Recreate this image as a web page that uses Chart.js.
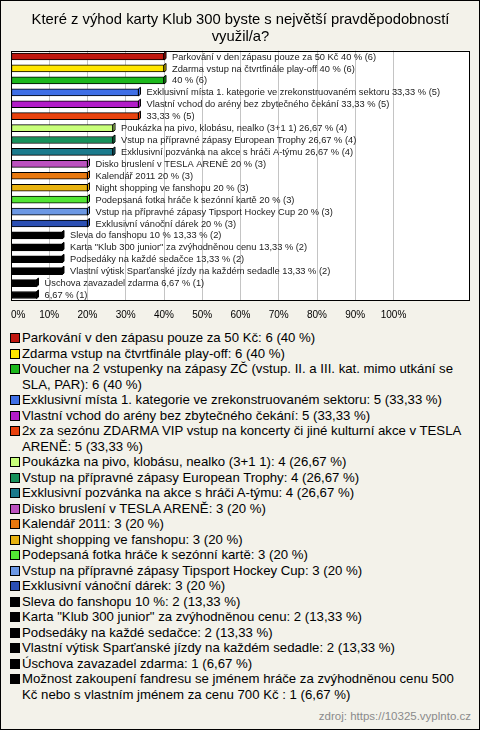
<!DOCTYPE html>
<html>
<head>
<meta charset="utf-8">
<script src="https://cdn.jsdelivr.net/npm/chart.js@4/dist/chart.umd.min.js"></script>
<style>
  html, body { margin: 0; padding: 0; background: #fff; }
  #box {
    position: relative; width: 480px; height: 730px; box-sizing: border-box;
    border: 1px solid #000; background: #f3f2ea; overflow: hidden;
    font-family: "Liberation Sans", Arial, sans-serif;
  }
  #chartWrap { position: absolute; left: 0; top: 0; width: 478px; height: 328px; }
  #legend { position: absolute; left: 9px; top: 329px; width: 462px; font-size: 13.2px; line-height: 15.5px; color: #000; }
  .item { display: flex; align-items: flex-start; }
  .sq { flex: none; width: 8px; height: 8px; border: 1px solid #000; margin: 3px 2px 0 0; }
  #src { position: absolute; right: 8px; top: 709px; font-size: 11.5px; color: #8a8a8a; }
</style>
</head>
<body>
<div id="box">
  <div id="chartWrap"><canvas id="chart"></canvas></div>
  <div id="legend"></div>
  <div id="src">zdroj: https://10325.vyplnto.cz</div>
</div>
<script>
/* ============== DATA ============== */
const titleLines = [
  "Které z výhod karty Klub 300 byste s největší pravděpodobností",
  "využil/a?",
];
const categories = [
  "Parkování v den zápasu pouze za 50 Kč",
  "Zdarma vstup na čtvrtfinále play-off",
  "Voucher na 2 vstupenky na zápasy ZČ (vstup. II. a III. kat. mimo utkání se SLA, PAR)",
  "Exklusivní místa 1. kategorie ve zrekonstruovaném sektoru",
  "Vlastní vchod do arény bez zbytečného čekání",
  "2x za sezónu ZDARMA VIP vstup na koncerty či jiné kulturní akce v TESLA ARENĚ",
  "Poukázka na pivo, klobásu, nealko (3+1 1)",
  "Vstup na přípravné zápasy European Trophy",
  "Exklusivní pozvánka na akce s hráči A-týmu",
  "Disko bruslení v TESLA ARENĚ",
  "Kalendář 2011",
  "Night shopping ve fanshopu",
  "Podepsaná fotka hráče k sezónní kartě",
  "Vstup na přípravné zápasy Tipsport Hockey Cup",
  "Exklusivní vánoční dárek",
  "Sleva do fanshopu 10 %",
  "Karta \"Klub 300 junior\" za zvýhodněnou cenu",
  "Podsedáky na každé sedačce",
  "Vlastní výtisk Sparťanské jízdy na každém sedadle",
  "Úschova zavazadel zdarma",
  "Možnost zakoupení fandresu se jménem hráče za zvýhodněnou cenu 500 Kč nebo s vlastním jménem za cenu 700 Kč ",
];
const counts = [6, 6, 6, 5, 5, 5, 4, 4, 4, 3, 3, 3, 3, 3, 3, 2, 2, 2, 2, 1, 1];
const percents = [40, 40, 40, 33.33, 33.33, 33.33, 26.67, 26.67, 26.67, 20, 20, 20, 20, 20, 20, 13.33, 13.33, 13.33, 13.33, 6.67, 6.67];
const colors = [
  "#c0170f", "#ffe600", "#1cb81c", "#3f6fe6", "#b21cc8", "#e8420e",
  "#c8ff7a", "#16915a", "#1b7a8c", "#bc52bf", "#e8780f", "#e8b20f",
  "#52e634", "#6c98e4", "#2b4fb4", "#000000", "#000000", "#000000",
  "#000000", "#000000", "#000000",
];
const tickValues = [0, 10, 20, 30, 40, 50, 60, 70, 80, 90, 100];

/* ============== HELPERS ============== */
const fmtPct = (v) => String(v).replace(".", ",");

// white plot area + black frame
const frame = {
  id: "frame",
  beforeDraw(chart) {
    const { ctx, chartArea: a } = chart;
    ctx.save();
    ctx.fillStyle = "#fff";
    ctx.fillRect(a.left, a.top, a.right - a.left, a.bottom - a.top);
    ctx.restore();
  },
  afterDraw(chart) {
    const { ctx, chartArea: a } = chart;
    ctx.save();
    ctx.strokeStyle = "#000";
    ctx.lineWidth = 1;
    ctx.strokeRect(Math.round(a.left) + 0.5, Math.round(a.top) + 0.5,
      Math.round(a.right - a.left) - 1, Math.round(a.bottom - a.top) - 1);
    ctx.restore();
  },
};

// little 3d side + text after every bar
const barText = {
  id: "barText",
  afterDatasetsDraw(chart) {
    const { ctx } = chart;
    const meta = chart.getDatasetMeta(0);
    ctx.save();
    meta.data.forEach((bar, i) => {
      const top = bar.y - bar.height / 2;
      const bot = bar.y + bar.height / 2;
      // right face
      ctx.beginPath();
      ctx.moveTo(bar.x, top);
      ctx.lineTo(bar.x + 2, top - 1.5);
      ctx.lineTo(bar.x + 2, bot - 1.5);
      ctx.lineTo(bar.x, bot);
      ctx.closePath();
      ctx.fillStyle = colors[i];
      ctx.fill();
      ctx.strokeStyle = "#000";
      ctx.lineWidth = 1;
      ctx.stroke();
    });
    ctx.font = "9.3px 'Liberation Sans', Arial, sans-serif";
    ctx.fillStyle = "#222";
    ctx.textBaseline = "middle";
    meta.data.forEach((bar, i) => {
      const name = categories[i].length > 70 ? "" : categories[i] + " ";
      ctx.fillText(`${name}${fmtPct(percents[i])} % (${counts[i]})`, bar.x + 8, bar.y + 0.5);
    });
    ctx.restore();
  },
};

/* ============== CHART ============== */
new Chart(document.getElementById("chart"), {
  type: "bar",
  data: {
    labels: categories,
    datasets: [{
      data: percents,
      backgroundColor: colors,
      borderColor: "#000",
      borderWidth: 1,
      borderSkipped: false,
      barThickness: 7,
    }],
  },
  options: {
    indexAxis: "y",
    responsive: true,
    maintainAspectRatio: false,
    animation: false,
    layout: { padding: { left: 10, right: 9, top: 0, bottom: 0 } },
    plugins: {
      legend: { display: false },
      tooltip: { enabled: false },
      title: {
        display: true,
        text: titleLines,
        color: "#000",
        font: { family: "'Liberation Sans', Arial, sans-serif", size: 14.8, weight: "normal", lineHeight: 1.1 },
        padding: { top: 11, bottom: 6 },
      },
    },
    scales: {
      x: {
        min: 0,
        max: 120,
        afterBuildTicks: (axis) => {
          axis.ticks = tickValues.concat([120]).map((v) => ({ value: v }));
        },
        afterFit: (axis) => { axis.height = 28; },
        grid: {
          color: (c) => (c.tick && c.tick.value > 0 && c.tick.value <= 100 ? "#c4c4c4" : "rgba(0,0,0,0)"),
          drawTicks: false,
        },
        border: { display: false },
        ticks: {
          align: "inner",
          padding: 8,
          color: "#000",
          font: { family: "'Liberation Sans', Arial, sans-serif", size: 10 },
          callback: (v) => (tickValues.includes(v) ? v + "%" : ""),
        },
      },
      y: { display: false, grid: { display: false } },
    },
  },
  plugins: [frame, barText],
});

/* ============== LEGEND ============== */
const legend = document.getElementById("legend");
categories.forEach((name, i) => {
  const row = document.createElement("div");
  row.className = "item";
  const sq = document.createElement("span");
  sq.className = "sq";
  sq.style.background = colors[i];
  const txt = document.createElement("span");
  txt.textContent = `${name}: ${counts[i]} (${fmtPct(percents[i])} %)`;
  row.appendChild(sq);
  row.appendChild(txt);
  legend.appendChild(row);
});
</script>
</body>
</html>
